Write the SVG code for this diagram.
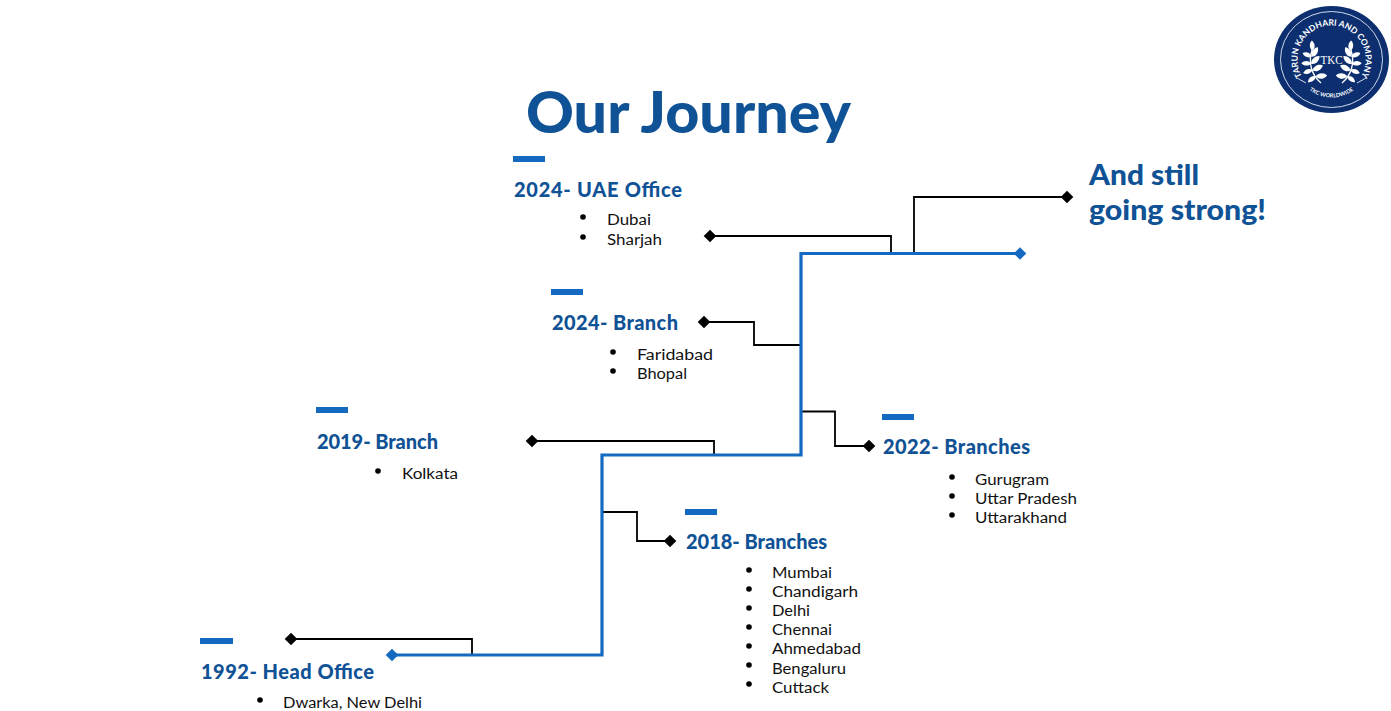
<svg xmlns="http://www.w3.org/2000/svg" width="1391" height="711" viewBox="0 0 1391 711">
<style>
text{font-family:"Lato","Open Sans","Liberation Sans",sans-serif}
.h{font-size:20px;font-weight:900;fill:#0f5295}
.b{font-size:15.5px;fill:#111}
.bar{fill:#1469c0}
.k{fill:none;stroke:#000;stroke-width:1.8}
.bl{fill:none;stroke:#1469c0;stroke-width:3.2}
.dk{fill:#000}.db{fill:#1469c0}
.dot{fill:#000}
.lg{fill:#fff}
</style>
<defs>
<path id="dm" d="M-6.300 0L0-6.300L6.300 0L0 6.300Z"/>
<path id="leaf" d="M0 0C3-4 9-4 12-1C9 3 3 4 0 0Z"/>
<path id="ta" d="M1301.200 74.900A34 34 0 1 1 1361.800 74.900"/>
<path id="tb" d="M1302.500 84A38 38 0 0 0 1360.500 84"/>
<g id="wr"><path d="M0 0C-8-10-9-24-2-36" fill="none" stroke="#fff" stroke-width="1.400"/>
<use href="#leaf" class="lg" transform="translate(-2-35) rotate(-75) scale(.9)"/>
<use href="#leaf" class="lg" transform="translate(-4-29) rotate(-40)"/>
<use href="#leaf" class="lg" transform="translate(-6-22) rotate(-25)"/>
<use href="#leaf" class="lg" transform="translate(-6-15) rotate(-8)"/>
<use href="#leaf" class="lg" transform="translate(-4-8) rotate(12)"/>
<use href="#leaf" class="lg" transform="translate(-4-29) rotate(-140) scale(.85)"/>
<use href="#leaf" class="lg" transform="translate(-6-22) rotate(-160) scale(.85)"/>
<use href="#leaf" class="lg" transform="translate(-6-15) rotate(-180) scale(.85)"/>
<use href="#leaf" class="lg" transform="translate(-4-8) rotate(160) scale(.85)"/>
</g>
</defs>
<rect width="1391" height="711" fill="#fff"/>
<text x="526" y="133" font-size="58" font-weight="900" fill="#0f5295" textLength="325" lengthAdjust="spacingAndGlyphs">Our Journey</text>
<g id="connectors">
<path class="k" d="M291 639H472V655"/>
<path class="k" d="M603 512H637V541H670"/>
<path class="k" d="M532 441H714V455"/>
<path class="k" d="M801 411.500H835V446H869"/>
<path class="k" d="M704 322H754V345H801"/>
<path class="k" d="M710 236H891V253"/>
<path class="k" d="M914 253V197H1067"/>
<path class="bl" d="M392 655H602V455H801V253.500H1020"/>
<use href="#dm" class="dk" x="291" y="639"/>
<use href="#dm" class="db" x="392" y="655"/>
<use href="#dm" class="dk" x="670" y="541"/>
<use href="#dm" class="dk" x="532" y="441"/>
<use href="#dm" class="dk" x="869" y="446"/>
<use href="#dm" class="dk" x="704" y="322"/>
<use href="#dm" class="dk" x="710" y="236"/>
<use href="#dm" class="dk" x="1067" y="197"/>
<use href="#dm" class="db" x="1020" y="253.500"/>
</g>
<g id="n1992">
<rect class="bar" x="200" y="638" width="33" height="6"/>
<text class="h" x="201" y="679" textLength="173" lengthAdjust="spacing">1992- Head Office</text>
<circle class="dot" cx="260" cy="700" r="2.8"/>
<text class="b" x="283" y="708" textLength="139" lengthAdjust="spacingAndGlyphs">Dwarka, New Delhi</text>
</g>
<g id="n2018">
<rect class="bar" x="685" y="509" width="32" height="6"/>
<text class="h" x="686" y="549" textLength="141" lengthAdjust="spacing">2018- Branches</text>
<circle class="dot" cx="749" cy="570" r="2.8"/><text class="b" x="772" y="578" textLength="60" lengthAdjust="spacingAndGlyphs">Mumbai</text>
<circle class="dot" cx="749" cy="589" r="2.8"/><text class="b" x="772" y="597" textLength="86" lengthAdjust="spacingAndGlyphs">Chandigarh</text>
<circle class="dot" cx="749" cy="608" r="2.8"/><text class="b" x="772" y="616" textLength="38" lengthAdjust="spacingAndGlyphs">Delhi</text>
<circle class="dot" cx="749" cy="627" r="2.8"/><text class="b" x="772" y="635" textLength="60" lengthAdjust="spacingAndGlyphs">Chennai</text>
<circle class="dot" cx="749" cy="646" r="2.8"/><text class="b" x="772" y="654" textLength="89" lengthAdjust="spacingAndGlyphs">Ahmedabad</text>
<circle class="dot" cx="749" cy="665" r="2.8"/><text class="b" x="772" y="674" textLength="74" lengthAdjust="spacingAndGlyphs">Bengaluru</text>
<circle class="dot" cx="749" cy="684" r="2.8"/><text class="b" x="772" y="693" textLength="57" lengthAdjust="spacingAndGlyphs">Cuttack</text>
</g>
<g id="n2019">
<rect class="bar" x="316" y="407" width="32" height="6"/>
<text class="h" x="317" y="449" textLength="121" lengthAdjust="spacing">2019- Branch</text>
<circle class="dot" cx="378" cy="471" r="2.8"/>
<text class="b" x="402" y="479" textLength="56" lengthAdjust="spacingAndGlyphs">Kolkata</text>
</g>
<g id="n2022">
<rect class="bar" x="882" y="414" width="32" height="6"/>
<text class="h" x="883" y="454" textLength="147" lengthAdjust="spacing">2022- Branches</text>
<circle class="dot" cx="952" cy="477" r="2.8"/><text class="b" x="975" y="485" textLength="74" lengthAdjust="spacingAndGlyphs">Gurugram</text>
<circle class="dot" cx="952" cy="496" r="2.8"/><text class="b" x="975" y="504" textLength="102" lengthAdjust="spacingAndGlyphs">Uttar Pradesh</text>
<circle class="dot" cx="952" cy="515" r="2.8"/><text class="b" x="975" y="523" textLength="92" lengthAdjust="spacingAndGlyphs">Uttarakhand</text>
</g>
<g id="n2024b">
<rect class="bar" x="551" y="289" width="32" height="6"/>
<text class="h" x="552" y="330" textLength="126" lengthAdjust="spacing">2024- Branch</text>
<circle class="dot" cx="613" cy="352" r="2.8"/><text class="b" x="637" y="360" textLength="76" lengthAdjust="spacingAndGlyphs">Faridabad</text>
<circle class="dot" cx="613" cy="371" r="2.8"/><text class="b" x="637" y="379" textLength="50" lengthAdjust="spacingAndGlyphs">Bhopal</text>
</g>
<g id="n2024u">
<rect class="bar" x="513" y="156" width="32" height="6"/>
<text class="h" x="514" y="197" textLength="168" lengthAdjust="spacing">2024- UAE Office</text>
<circle class="dot" cx="583" cy="217" r="2.8"/><text class="b" x="607" y="225" textLength="44" lengthAdjust="spacingAndGlyphs">Dubai</text>
<circle class="dot" cx="583" cy="237" r="2.8"/><text class="b" x="607" y="245" textLength="55" lengthAdjust="spacingAndGlyphs">Sharjah</text>
</g>
<g id="nstill">
<text x="1089" y="185" font-size="28" font-weight="900" fill="#0f5295" textLength="110" lengthAdjust="spacingAndGlyphs">And still</text>
<text x="1089" y="220" font-size="28" font-weight="900" fill="#0f5295" textLength="177" lengthAdjust="spacingAndGlyphs">going strong!</text>
</g>
<g id="logo">
<ellipse cx="1331.500" cy="59.500" rx="57.500" ry="53.500" fill="#0d2f6f"/>
<ellipse cx="1331.500" cy="59.500" rx="51" ry="48" fill="none" stroke="#cfd8ea" stroke-width="1"/>
<text font-size="8.500" font-weight="700" fill="#fff"><textPath href="#ta" startOffset="50%" text-anchor="middle">TARUN KANDHARI AND COMPANY</textPath></text>
<text font-size="5.500" font-weight="700" fill="#fff"><textPath href="#tb" startOffset="50%" text-anchor="middle">TKC WORLDWIDE</textPath></text>
<path d="M1297 78L1306 83M1366 78L1357 83" stroke="#cfd8ea" stroke-width="1"/>
<use href="#wr" transform="translate(1321 83) rotate(-12) scale(.95)"/>
<use href="#wr" transform="translate(1342 83) scale(-.95 .95) rotate(-12)"/>
<text x="1331.500" y="64" text-anchor="middle" font-size="13" fill="#fff" textLength="22" lengthAdjust="spacingAndGlyphs" style="font-family:'Liberation Serif',serif">TKC</text>
</g>
</svg>
